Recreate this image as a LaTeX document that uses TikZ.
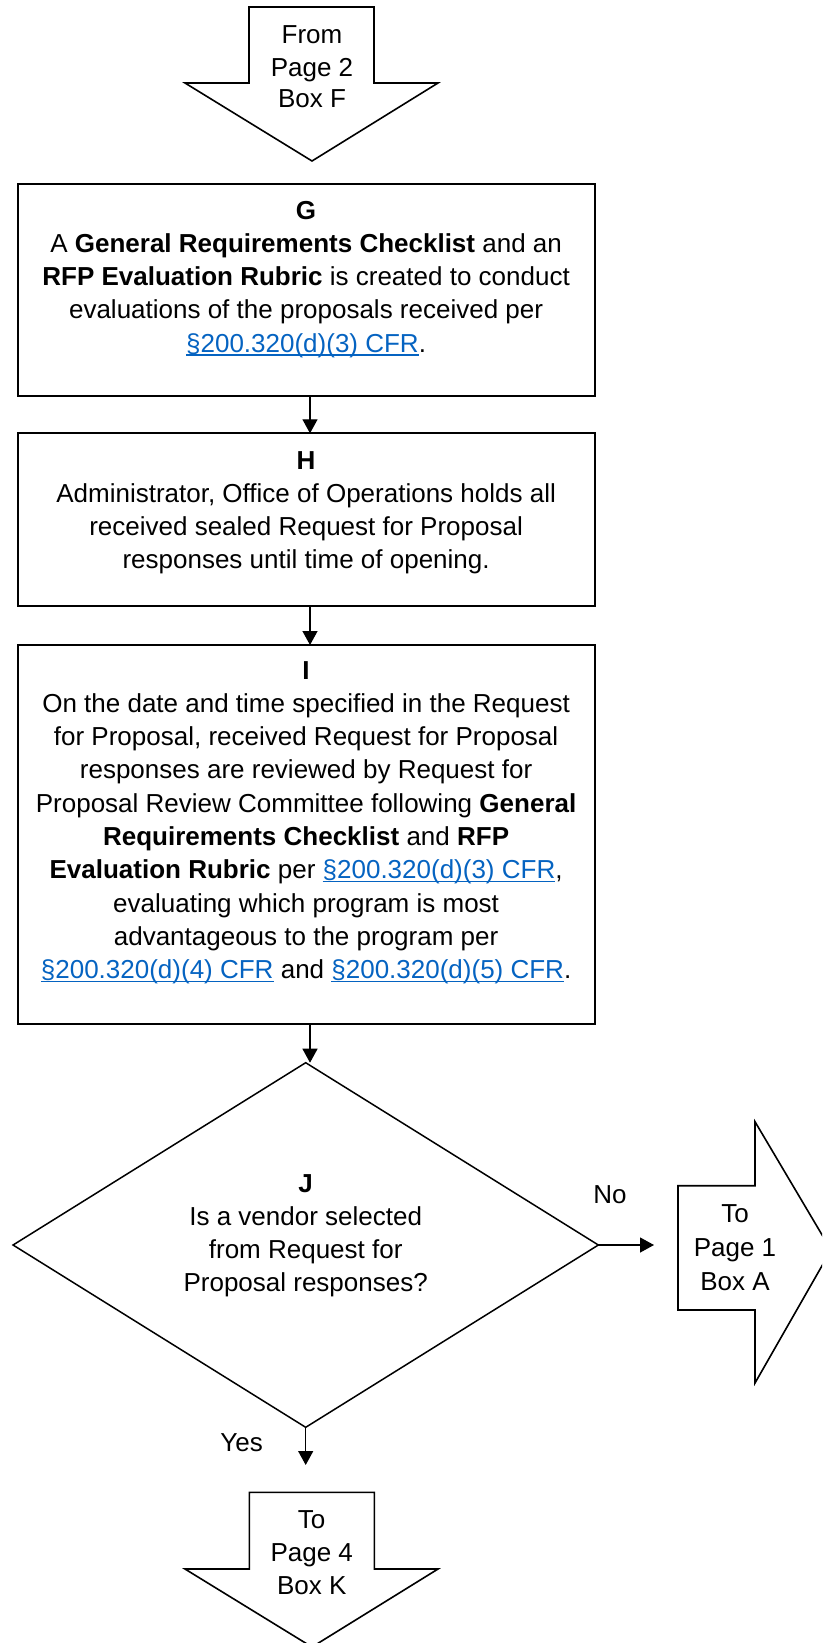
\documentclass[tikz,border=0pt]{standalone}
\usepackage{fontspec}
\setmainfont{Liberation Sans}
\usetikzlibrary{shapes.geometric,arrows.meta}
\definecolor{linkblue}{RGB}{5,99,193}
\newsavebox\lnkbox
\newcommand\lnk[1]{\textcolor{linkblue}{\sbox\lnkbox{#1}\rlap{\rule[-3.6pt]{\wd\lnkbox}{1.7pt}}\usebox\lnkbox}}
\newcommand\fst{\rule{0pt}{26pt}}
\begin{document}
\begin{tikzpicture}[x=1pt,y=-1pt,
  boxnode/.style={draw, line width=2pt, rectangle, inner sep=0pt, outer sep=0pt, minimum width=576.8pt},
  txt/.style={inner sep=0pt, outer sep=0pt, align=center, font=\fontsize{26}{33.3}\selectfont},
  lbl/.style={inner sep=0pt, outer sep=0pt, font=\fontsize{26}{33.3}\selectfont},
  conn/.style={line width=1.3pt, -{Triangle[length=14pt,width=15pt]}},
  pageshape/.style={draw, line width=1.6pt, line join=miter}
]
\useasboundingbox (0,0) rectangle (822,1643);
\clip (0,0) rectangle (822,1643);

% off-page connector: from page 2
\draw[pageshape] (249,7) -- (374,7) -- (374,83) -- (438,83) -- (312,161) -- (185,83) -- (249,83) -- cycle;
\node[txt, anchor=north, font=\fontsize{26}{32}\selectfont] (fromtxt) at (312,18) {\fst From\\Page 2\\Box F};

% box G
\node[boxnode, minimum height=211.4pt] (gbox) at (306.1,290) {};
\node[txt, anchor=north] (gtxt) at (306.1,193) {\fst\textbf{G}\\
A \textbf{General Requirements Checklist} and an\\
\textbf{RFP Evaluation Rubric} is created to conduct\\
evaluations of the proposals received per\\
\lnk{§200.320(d)(3) CFR}.};

% box H
\node[boxnode, minimum height=172.7pt] (hbox) at (306.1,519.65) {};
\node[txt, anchor=north] (htxt) at (306.1,443) {\fst\textbf{H}\\
Administrator, Office of Operations holds all\\
received sealed Request for Proposal\\
responses until time of opening.};

% box I
\node[boxnode, minimum height=378.5pt] (ibox) at (306.1,834.25) {};
\node[txt, anchor=north] (itxt) at (306.1,653) {\fst\textbf{I}\\
On the date and time specified in the Request\\
for Proposal, received Request for Proposal\\
responses are reviewed by Request for\\
Proposal Review Committee following \textbf{General}\\
\textbf{Requirements Checklist} and \textbf{RFP}\\
\textbf{Evaluation Rubric} per \lnk{§200.320(d)(3) CFR},\\
evaluating which program is most\\
advantageous to the program per\\
\lnk{§200.320(d)(4) CFR} and \lnk{§200.320(d)(5) CFR}.};

% decision J
\node[draw, line width=1.5pt, diamond, inner sep=0pt, outer sep=0pt,
      minimum width=585.3pt, minimum height=364.6pt] (jdia) at (305.7,1245) {};
\node[txt, anchor=north] (jtxt) at (305.7,1166) {\fst\textbf{J}\\
Is a vendor selected\\
from Request for\\
Proposal responses?};

% off-page connector: to page 1
\draw[pageshape] (678,1185.7) -- (755,1185.7) -- (755,1121.7) -- (831,1250) -- (755,1383) -- (755,1310) -- (678,1310) -- cycle;
\node[txt, anchor=north, font=\fontsize{26}{34}\selectfont] (atxt) at (735,1196) {\fst To\\Page 1\\Box A};

% off-page connector: to page 4
\draw[pageshape] (249.3,1492.3) -- (374.3,1492.3) -- (374.3,1569) -- (438,1569) -- (312,1647) -- (185,1569) -- (249.3,1569) -- cycle;
\node[txt, anchor=north, font=\fontsize{26}{33}\selectfont] (ktxt) at (311.7,1502) {\fst To\\Page 4\\Box K};

% connectors
\coordinate (ax) at (310,0);
\coordinate (noend) at (654,1245);
\coordinate (yesend) at (305.7,1465);
\draw[conn] (gbox.south -| ax) -- (hbox.north -| ax);
\draw[conn] (hbox.south -| ax) -- (ibox.north -| ax);
\draw[conn] (ibox.south -| ax) -- (jdia.north -| ax);
\draw[conn] (jdia.east) -- (noend);
\draw[conn] (jdia.south) -- (yesend);

\node[lbl] (nolbl) at (610,1195) {No};
\node[lbl] (yeslbl) at (241.7,1443) {Yes};
\end{tikzpicture}
\end{document}
